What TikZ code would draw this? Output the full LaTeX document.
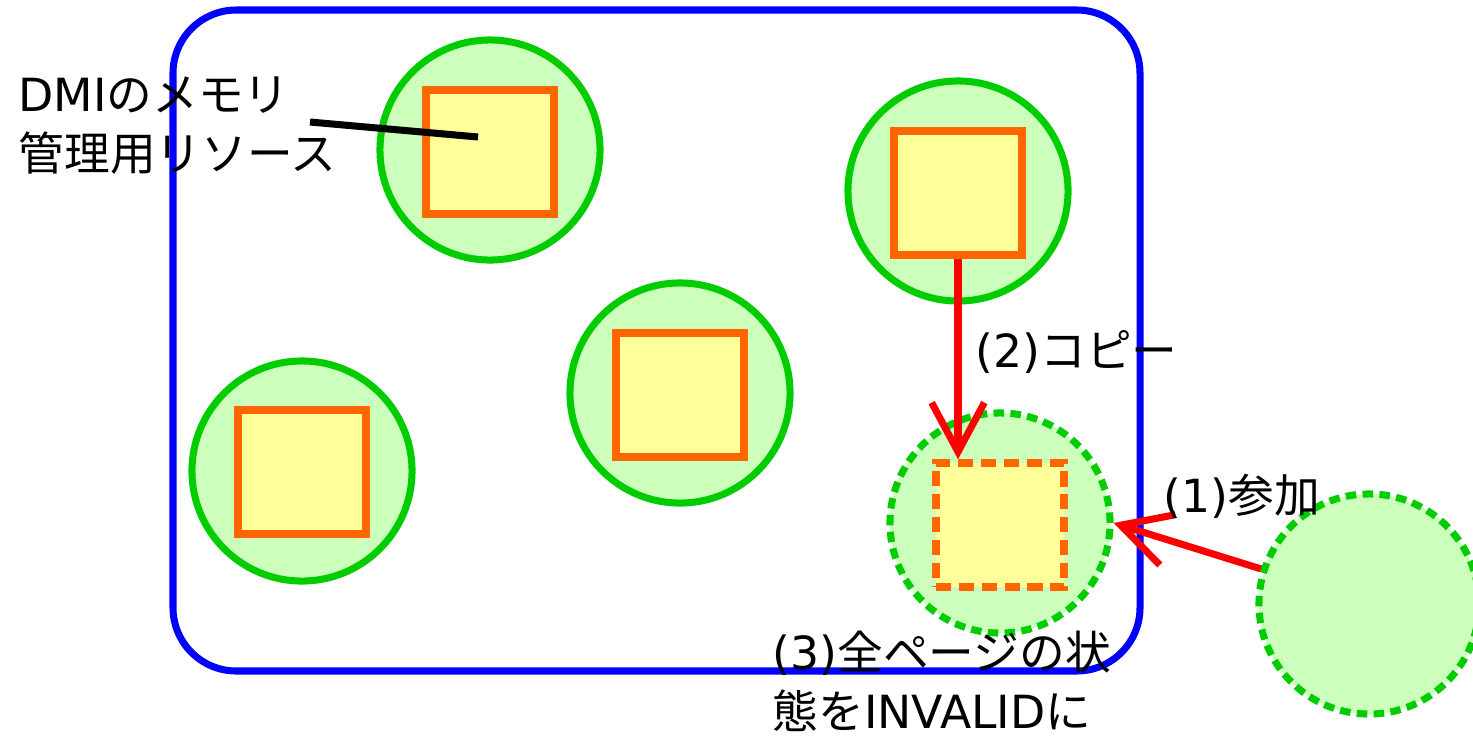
\documentclass[tikz,border=0pt]{standalone}
\usepackage{fontspec}
\setmainfont{DejaVu Sans}
\newfontfamily\jp{Noto Sans CJK JP}
\usetikzlibrary{arrows.meta,positioning}
\definecolor{boxblue}{RGB}{0,0,255}
\definecolor{resline}{RGB}{0,204,0}
\definecolor{resfill}{RGB}{204,255,187}
\definecolor{pagefill}{RGB}{255,255,153}
\definecolor{pageline}{RGB}{255,102,0}
\tikzstyle{res}=[circle,draw=resline,fill=resfill,line width=2pt,minimum size=2.2cm,inner sep=0pt]
\tikzstyle{newres}=[res,dash pattern=on 3pt off 1.8pt]
\tikzstyle{page}=[rectangle,draw=pageline,fill=pagefill,line width=2.1pt,minimum width=1.28cm,minimum height=1.24cm,inner sep=0pt]
\tikzstyle{newpage}=[page,dash pattern=on 4.3pt off 2.2pt]
\tikzstyle{lbl}=[anchor=base west,inner sep=0pt,align=left,font=\fontsize{13pt}{16.5pt}\selectfont]
\tikzstyle{arr}=[-{Straight Barb[length=14pt,width=15pt]},red,line width=2pt]

\begin{document}
\begin{tikzpicture}[x=0.01cm,y=-0.01cm]
\useasboundingbox (0,0) rectangle (1473,736);
\draw[boxblue,line width=2pt,rounded corners=18pt] (173,10) rectangle (1140,671);
% resources and their pages
\node[res] (A) at (490,150) {};
\node[res] (B) at (958,191) {};
\node[res] (C) at (680,393) {};
\node[res] (D) at (302,471) {};
\node[newres] (E) at (1000,523) {};
\node[newres] (F) at (1369,604) {};
\node[page] (PA) at (490,152) {};
\node[page] (PB) at (958,193) {};
\node[page] (PC) at (680,395) {};
\node[page] (PD) at (302,472) {};
\node[newpage] (PE) at (1000,525) {};
% leader line for the label
\coordinate (lead) at (310,122);
\coordinate (tip) at (478,137);
\draw[line width=2pt] (lead) -- (tip);
\draw[arr] (PB.south) -- (PB.south |- PE.north);
\draw[arr] (F.162) -- (E.east);
% labels (base = last line)
\node[lbl] (L1) at (18,170) {DMI{\jp のメモリ}\\{\jp 管理用リソース}};
\node[lbl] (L2) at (975,367) {(2){\jp コピー}};
\node[lbl] (L3) at (1163,512) {(1){\jp 参加}};
\node[lbl] (L4) at (772,728) {(3){\jp 全ページの状}\\{\jp 態を}INVALID{\jp に}};
\end{tikzpicture}
\end{document}
